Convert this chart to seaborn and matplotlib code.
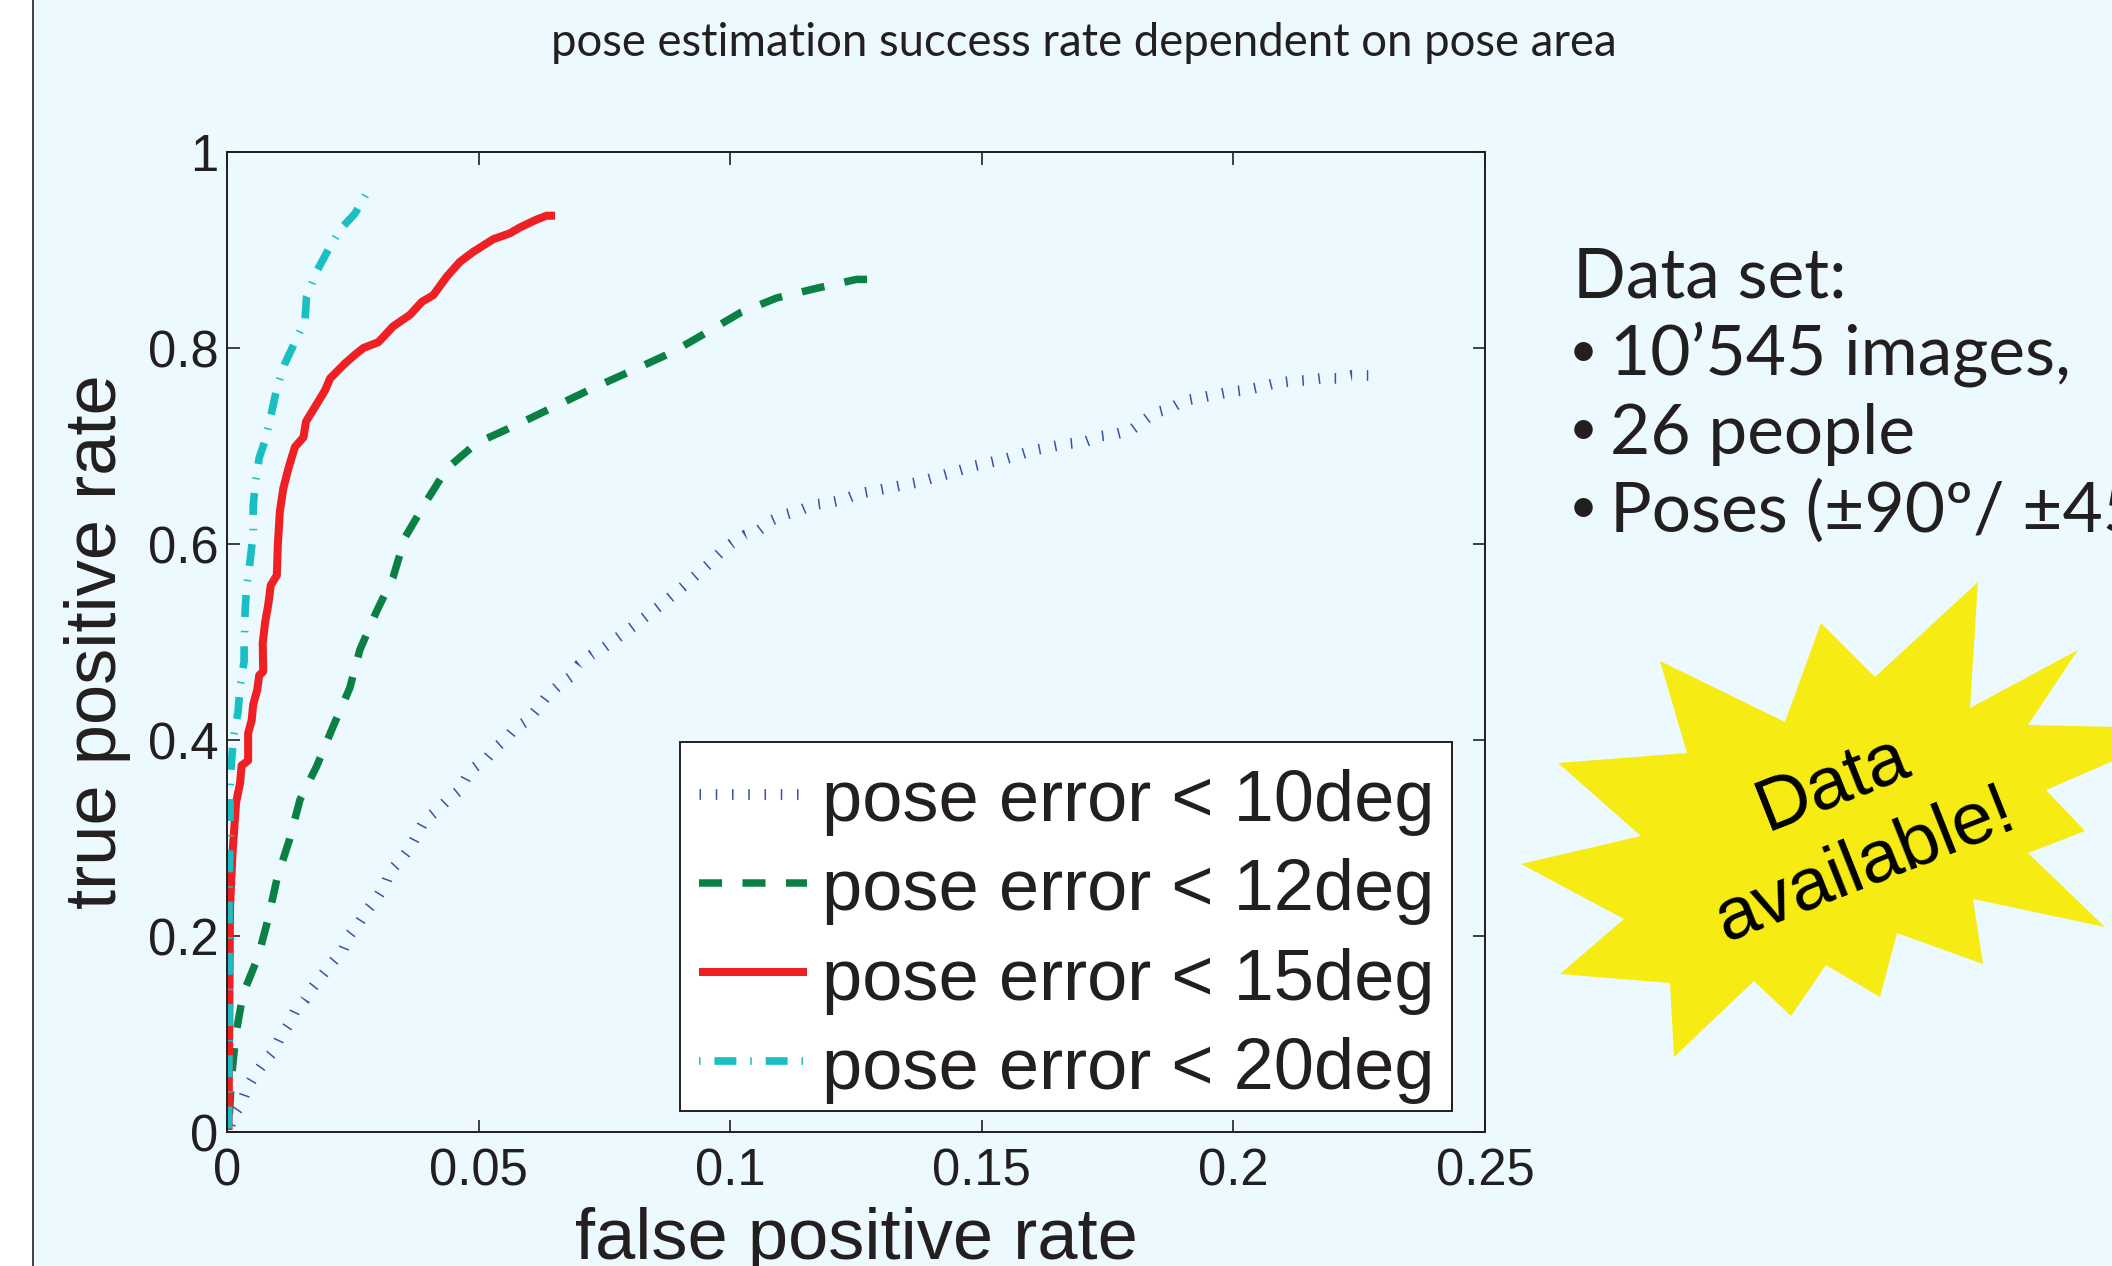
# pose estimation roc curves
import pandas as pd
import matplotlib
matplotlib.use('Agg')
import matplotlib.pyplot as plt
from matplotlib.patches import Polygon, Rectangle
import seaborn as sns

# values
x10 = [.0003, .0013, .0029, .0039, .0054, .0072, .0092, .0105, .0122, .0135, .0155, .0171, .0191, .0211,
       .0231, .0242, .0262, .0278, .0297, .0314, .0324, .0346, .0364, .0378, .0393, .0417, .0439, .0463,
       .0476, .0489, .0516, .0536, .0558, .0572, .0598, .0617, .0636, .0660, .0682, .0700, .0725, .0751,
       .0807, .0860, .0905, .0956, .0980, .1002, .1029, .1057, .1082, .1109, .1137, .1164, .1195, .1224,
       .1252, .1313, .1373, .1428, .1488, .1548, .1606, .1665, .1704, .1734, .1765, .1796, .1820, .1843,
       .1874, .1900, .1931, .1991, .2024, .2051, .2082, .2113, .2144, .2173, .2206, .2235, .2268]
y10 = [.002, .017, .029, .044, .057, .070, .082, .096, .109, .123, .135, .148, .161, .174,
       .186, .200, .213, .226, .238, .252, .266, .278, .290, .304, .318, .328, .339, .349,
       .362, .371, .381, .393, .403, .412, .420, .432, .445, .456, .464, .477, .487, .495,
       .516, .537, .556, .579, .591, .600, .609, .614, .624, .630, .634, .640, .642, .645,
       .651, .657, .663, .671, .680, .687, .696, .702, .704, .710, .712, .716, .725, .734,
       .738, .746, .749, .755, .757, .760, .764, .766, .767, .769, .769, .772, .772]

x12 = [.0003, .0009, .0018, .0032, .0062, .0082, .0100, .0124, .0145, .0178, .0211, .0244, .0264, .0297,
       .0330, .0354, .0393, .0437, .0496, .0569, .0642, .0727, .0814, .0886, .0957, .1020, .1092, .1172,
       .1251, .1272]
y12 = [.002, .056, .101, .141, .179, .218, .260, .298, .339, .373, .414, .453, .492, .531,
       .566, .607, .641, .677, .703, .720, .738, .759, .779, .796, .817, .836, .851, .861,
       .870, .870]

x15 = [.0003, .0006, .0011, .0018, .0026, .0029, .0042, .0042, .0049, .0052, .0060, .0064, .0072, .0071,
       .0076, .0082, .0087, .0099, .0101, .0105, .0112, .0122, .0129, .0135, .0152, .0157, .0175, .0195,
       .0205, .0234, .0254, .0271, .0301, .0330, .0364, .0387, .0410, .0437, .0463, .0489, .0529, .0562,
       .0582, .0615, .0635, .0652]
y15 = [.002, .230, .285, .336, .356, .374, .379, .407, .420, .436, .451, .466, .470, .499,
       .521, .538, .558, .568, .599, .633, .657, .677, .689, .699, .709, .725, .740, .757,
       .769, .784, .793, .800, .806, .822, .834, .847, .854, .873, .888, .898, .911, .917,
       .923, .931, .935, .935]

x20 = [.0003, .0004, .0004, .0006, .0006, .0009, .0013, .0022, .0026, .0034, .0034, .0035, .0036, .0039,
       .0046, .0052, .0052, .0056, .0064, .0076, .0089, .0099, .0115, .0135, .0155, .0158, .0178, .0201,
       .0225, .0254, .0281]
y20 = [.002, .094, .247, .298, .352, .379, .403, .429, .454, .480, .499, .509, .532, .556,
       .583, .611, .638, .662, .688, .706, .735, .759, .784, .806, .828, .852, .878, .900,
       .921, .937, .961]

labels = ['pose error < 10deg', 'pose error < 12deg', 'pose error < 15deg', 'pose error < 20deg']
x_ticks = [0, 0.05, 0.1, 0.15, 0.2, 0.25]
x_tick_labels = ['0', '0.05', '0.1', '0.15', '0.2', '0.25']
y_ticks = [0, 0.2, 0.4, 0.6, 0.8, 1]
y_tick_labels = ['0', '0.2', '0.4', '0.6', '0.8', '1']
bullet_lines = ['10’545 images,', '26 people', 'Poses (±90º/ ±45º)']

# star outline, in reference pixels
star = [(1978, 582), (1875, 677), (1821, 623), (1785, 722), (1660, 661), (1687, 753), (1558, 763), (1641, 836),
        (1521, 864), (1624, 919), (1560, 974), (1670, 983), (1674, 1057), (1754, 981), (1791, 1016), (1826, 965),
        (1880, 997), (1897, 933), (1983, 964), (1973, 899), (2105, 927), (2028, 853), (2085, 831), (2046, 790),
        (2120, 758), (2120, 727), (2028, 725), (2078, 650), (1970, 708)]

W, H = 2112, 1266
INK = '#231f20'
BG = '#ecf9fe'


def fx(px):
    return px / W


def fy(py):
    return 1 - py / H


sns.set_theme(style='ticks')
plt.rcParams['font.family'] = ['Liberation Sans']
plt.rcParams['lines.scale_dashes'] = False
plt.rcParams['lines.solid_capstyle'] = 'butt'
plt.rcParams['text.color'] = INK

fig = plt.figure(figsize=(21.12, 12.66), dpi=100, facecolor='white')
fig.add_artist(Rectangle((fx(34), 0), 1, 1, transform=fig.transFigure, facecolor=BG, edgecolor='none', zorder=-3))
fig.add_artist(Rectangle((fx(31.5), 0), fx(2.5), 1, transform=fig.transFigure, facecolor='#444444', edgecolor='none', zorder=-2))
fig.add_artist(Polygon([(fx(a), fy(b)) for a, b in star], transform=fig.transFigure, facecolor='#f6ec13', edgecolor='none', zorder=-1))

ax = fig.add_axes([fx(227), fy(1132), fx(1485 - 227), (1132 - 152) / H])
ax.patch.set_alpha(0)

# tall thin dashes give the tick look of the 10deg curve
# first offset lines the dashes up on the curve, the legend keeps offset 0
styles = [
    ('#3953a4', 7.7, 7.9, (1.1, 10.6)),
    ('#0a8043', 5.4, 20, (16.6, 14.7)),
    ('#ee2024', 5.8, 0, None),
    ('#1abfc3', 5.5, 10, (1.1, 10, 15.8, 10)),
]
curves = [(x10, y10), (x12, y12), (x15, y15), (x20, y20)]
for (xs, ys), label, (color, lw, off, dash) in zip(curves, labels, styles):
    df = pd.DataFrame({'false positive rate': xs, 'true positive rate': ys})
    sns.lineplot(data=df, x='false positive rate', y='true positive rate', sort=False, estimator=None,
                 color=color, linewidth=lw, linestyle=(off, dash) if dash else '-', label=label, ax=ax)

ax.set_xlim(0, 0.25)
ax.set_ylim(0, 1)
ax.set_xticks(x_ticks, x_tick_labels)
ax.set_yticks(y_ticks, y_tick_labels)
ax.tick_params(axis='both', direction='in', length=9, width=1.2, color=INK, labelcolor=INK, labelsize=36.5, top=True, right=True)
ax.tick_params(axis='x', pad=11)
ax.tick_params(axis='y', pad=6)
for spine in ax.spines.values():
    spine.set_visible(True)
    spine.set_color(INK)
    spine.set_linewidth(1.4)
ax.set_xlabel('false positive rate', fontsize=52, color=INK, labelpad=8)
ax.set_ylabel('true positive rate', fontsize=52, color=INK, labelpad=12)

# own frame, the legend's own box cannot sit this tight on the text
ax.add_patch(Rectangle((fx(680), fy(1111)), fx(1452 - 680), (1111 - 742) / H, transform=fig.transFigure, facecolor='white',
                       edgecolor=INK, linewidth=1.4, zorder=4, clip_on=False))
leg = ax.legend(loc='lower left', bbox_to_anchor=(fx(680), fy(1123)), bbox_transform=fig.transFigure, borderaxespad=0,
                fontsize=52, handlelength=1.5, handletextpad=0.2, borderpad=0.264, handleheight=0.9, labelspacing=0.268,
                frameon=False)
leg.set_zorder(5)
for t in leg.get_texts():
    t.set_color(INK)
for handle, (color, lw, off, dash) in zip(leg.get_lines(), styles):
    if dash:
        handle.set_linestyle((0, dash))

fig.text(fx(1084), fy(43), 'pose estimation success rate dependent on pose area', family='Lato', fontsize=32.8,
         ha='center', va='center', color=INK)
fig.text(fx(1573), fy(298), 'Data set:', family='Lato', fontsize=50, ha='left', va='baseline', color=INK)
for line, base in zip(bullet_lines, [376, 454, 532]):
    fig.text(fx(1569), fy(base - 9), '•', family='Lato', fontsize=36, ha='left', va='baseline', color=INK)
    fig.text(fx(1610), fy(base), line, family='Lato', fontsize=50, ha='left', va='baseline', color=INK)
fig.text(fx(1849), fy(824), 'Data\navailable!', fontsize=54, rotation=21.6, rotation_mode='anchor', ha='center',
         va='center', multialignment='center', linespacing=1.35, color='black')

fig.savefig('out.png', dpi=100, facecolor=fig.get_facecolor())
